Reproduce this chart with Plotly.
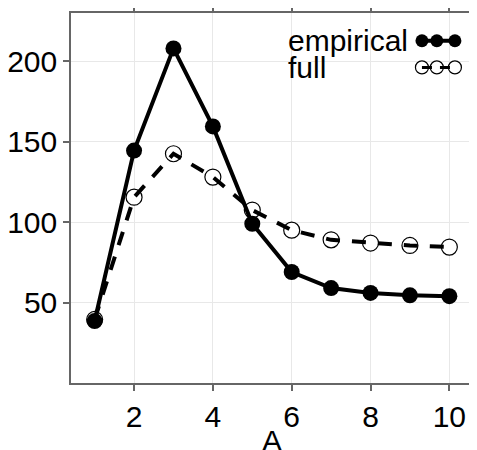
import plotly.graph_objects as go

A = [1, 2, 3, 4, 5, 6, 7, 8, 9, 10]
empirical = [38.5, 144.5, 208, 159.5, 99, 69, 59, 56, 54.5, 54]
full = [39.5, 115.5, 142.5, 128, 107.5, 95, 89, 87, 85.5, 84.5]

x_ticks = [2, 4, 6, 8, 10]
y_ticks = [50, 100, 150, 200]

legend_labels = ["empirical", "full"]
x_title = "A"

FONT = "Liberation Sans"
BLACK = "#000000"
FS = 30

fig = go.Figure()

# full: open markers beneath its dashed line
fig.add_trace(go.Scatter(
    x=A, y=full, mode="markers",
    marker=dict(symbol="circle", size=16, color="white", line=dict(color=BLACK, width=1.2)),
    showlegend=False, hoverinfo="skip"))
fig.add_trace(go.Scatter(
    x=A, y=full, mode="lines",
    line=dict(color=BLACK, width=4, dash="14px,12px"),
    showlegend=False))
# empirical on top
fig.add_trace(go.Scatter(
    x=A, y=empirical, mode="lines+markers",
    line=dict(color=BLACK, width=4),
    marker=dict(symbol="circle", size=16, color=BLACK),
    showlegend=False))

# custom legend (text on the left, key on the right) in an overlay axis
key_x = [0.873, 0.910, 0.955]
row_y = [0.925, 0.853]
fig.add_trace(go.Scatter(
    x=key_x, y=[row_y[0]] * 3, xaxis="x2", yaxis="y2", mode="lines+markers",
    line=dict(color=BLACK, width=4),
    marker=dict(symbol="circle", size=13, color=BLACK),
    showlegend=False, hoverinfo="skip"))
fig.add_trace(go.Scatter(
    x=key_x, y=[row_y[1]] * 3, xaxis="x2", yaxis="y2", mode="markers",
    marker=dict(symbol="circle", size=13, color="white", line=dict(color=BLACK, width=1.2)),
    showlegend=False, hoverinfo="skip"))
fig.add_trace(go.Scatter(
    x=key_x, y=[row_y[1]] * 3, xaxis="x2", yaxis="y2", mode="lines",
    line=dict(color=BLACK, width=3, dash="10px,8px"),
    showlegend=False, hoverinfo="skip"))

for label, yy in zip(legend_labels, row_y):
    fig.add_annotation(
        x=0.535, y=yy, xref="x2", yref="y2", text=label, showarrow=False,
        xanchor="left", yanchor="middle",
        font=dict(family=FONT, size=FS, color=BLACK))

# x axis title as an annotation for exact placement
fig.add_annotation(
    x=0.5, y=0, xref="paper", yref="paper", text=x_title, showarrow=False,
    xanchor="center", yanchor="top", yshift=-39,
    font=dict(family=FONT, size=FS, color=BLACK))

axis_common = dict(
    showline=True, linecolor="#666666", linewidth=1.5, mirror="ticks",
    ticks="outside", ticklen=6, tickcolor="#666666", tickwidth=1.5,
    showgrid=True, gridcolor="#e8e8e8", gridwidth=1, zeroline=False,
    tickfont=dict(family=FONT, size=FS, color=BLACK), automargin=False,
)

# the page body adds an 8px margin, so the figure is 8px smaller and shifted
fig.update_layout(
    width=469, height=442,
    margin=dict(l=63, r=4, t=5, b=67),
    paper_bgcolor="white", plot_bgcolor="white",
    showlegend=False,
    xaxis=dict(range=[0.4, 10.6], tickvals=x_ticks, **axis_common),
    yaxis=dict(range=[0, 230], tickvals=y_ticks, **axis_common),
    xaxis2=dict(range=[0, 1], overlaying="x", visible=False, fixedrange=True),
    yaxis2=dict(range=[0, 1], overlaying="y", visible=False, fixedrange=True),
)

fig.write_html("out.html")
